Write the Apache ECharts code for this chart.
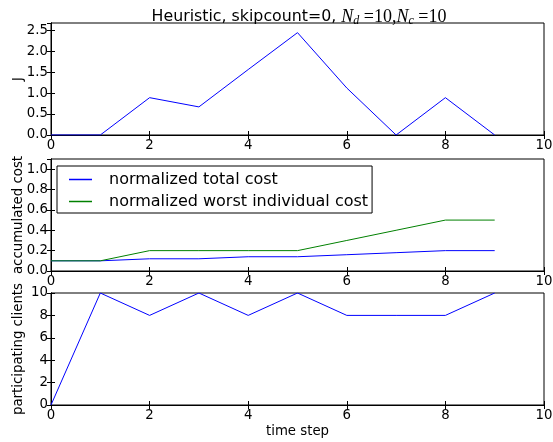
<!DOCTYPE html>
<html>
<head>
<meta charset="utf-8">
<script src="https://cdn.jsdelivr.net/npm/echarts@6/dist/echarts.min.js"></script>
<style>
  html, body { margin: 0; padding: 0; background: #fff; }
  #chart { width: 553px; height: 442px; }
</style>
</head>
<body>
<div id="chart"></div>
<script>
// data
const timeSteps = [0, 1, 2, 3, 4, 5, 6, 7, 8, 9];
const costJ = [0, 0, 0.89, 0.67, 1.56, 2.44, 1.12, 0, 0.89, 0];
const totalCost = [0.1, 0.1, 0.12, 0.12, 0.14, 0.14, 0.16, 0.18, 0.2, 0.2];
const worstCost = [0.1, 0.1, 0.2, 0.2, 0.2, 0.2, 0.3, 0.4, 0.5, 0.5];
const clients = [0, 10, 8, 10, 8, 10, 8, 8, 8, 10];
const xTicks = [0, 2, 4, 6, 8, 10];

const chart = echarts.init(document.getElementById('chart'));
const font = 'DejaVu Sans';
const black = '#000';
const fs = 13.3;

const grids = [
  { left: 51, right: 9, top: 23, height: 112 },
  { left: 51, right: 9, top: 159, height: 112 },
  { left: 51, right: 9, top: 293, height: 112 }
];
const yRanges = [
  { min: 0, max: 2.67, interval: 0.5, name: 'J', fmt: v => v.toFixed(1) },
  { min: 0, max: 1.1, interval: 0.2, name: 'accumulated cost', fmt: v => v.toFixed(1) },
  { min: 0, max: 10, interval: 2, name: 'participating clients', fmt: v => String(v) }
];

const pairs = ys => timeSteps.map((t, i) => [t, ys[i]]);

const xAxes = [];
const yAxes = [];
grids.forEach((g, i) => {
  // bottom axis with labels
  xAxes.push({
    type: 'value', gridIndex: i, min: xTicks[0], max: xTicks[xTicks.length - 1], interval: 2,
    position: 'bottom',
    name: i === 2 ? 'time step' : '', nameLocation: 'middle', nameGap: 20, nameMoveOverlap: false,
    nameTextStyle: { fontFamily: font, fontSize: fs, color: black },
    axisLine: { lineStyle: { color: black, width: 1 } },
    axisTick: { inside: true, length: 4, lineStyle: { color: black } },
    axisLabel: { margin: 4, fontFamily: font, fontSize: fs, color: black },
    splitLine: { show: false }
  });
  // top mirror ticks
  xAxes.push({
    type: 'value', gridIndex: i, min: 0, max: 10, interval: 2, position: 'top',
    axisLine: { lineStyle: { color: black, width: 1 } },
    axisTick: { inside: true, length: 4, lineStyle: { color: black } },
    axisLabel: { show: false }, splitLine: { show: false }
  });
  const r = yRanges[i];
  yAxes.push({
    type: 'value', gridIndex: i, min: r.min, max: r.max, interval: r.interval,
    position: 'left',
    name: r.name, nameLocation: 'middle', nameGap: 26, nameMoveOverlap: false,
    nameTextStyle: { fontFamily: font, fontSize: fs, color: black },
    axisLine: { show: true, lineStyle: { color: black, width: 1 } },
    axisTick: { inside: true, length: 4, lineStyle: { color: black } },
    axisLabel: { margin: 3, fontFamily: font, fontSize: fs, color: black, showMaxLabel: r.max % r.interval === 0, formatter: r.fmt },
    splitLine: { show: false }
  });
  yAxes.push({
    type: 'value', gridIndex: i, min: r.min, max: r.max, interval: r.interval,
    position: 'right',
    axisLine: { show: true, lineStyle: { color: black, width: 1 } },
    axisTick: { inside: true, length: 4, lineStyle: { color: black } },
    axisLabel: { show: false }, splitLine: { show: false }
  });
});

const lineSeries = (name, data, color, gi) => ({
  name, type: 'line', data, xAxisIndex: gi * 2, yAxisIndex: gi * 2,
  symbol: 'none', animation: false,
  lineStyle: { color, width: 1 }, itemStyle: { color }
});

const serif = 'Liberation Serif';
const option = {
  animation: false,
  title: {
    text: '{a|Heuristic, skipcount=0, }{m|N}{s|d}{r| =10,}{m|N}{s|c}{r| =10}',
    left: 294, top: 2, textAlign: 'center',
    textStyle: {
      fontWeight: 'normal',
      rich: {
        a: { fontFamily: font, fontSize: 15.8, fontWeight: 'normal', color: black, lineHeight: 20 },
        m: { fontFamily: serif, fontStyle: 'italic', fontWeight: 'normal', fontSize: 18, color: black, lineHeight: 20 },
        r: { fontFamily: serif, fontWeight: 'normal', fontSize: 18, color: black, lineHeight: 20 },
        s: { fontFamily: serif, fontStyle: 'italic', fontWeight: 'normal', fontSize: 12, color: black, lineHeight: 11, verticalAlign: 'bottom' }
      }
    }
  },
  legend: {
    left: 57, top: 166, orient: 'vertical',
    data: ['normalized total cost', 'normalized worst individual cost'],
    icon: 'rect', itemWidth: 23, itemHeight: 1.5, itemGap: 5,
    padding: [5, 4, 3, 12],
    borderColor: black, borderWidth: 1, borderRadius: 0,
    backgroundColor: '#fff',
    textStyle: { fontFamily: font, fontSize: 16, lineHeight: 17, color: black, padding: [0, 0, 0, 12] }
  },
  grid: grids.map(g => Object.assign({
    show: true, borderColor: black, borderWidth: 1, backgroundColor: 'transparent',
    containLabel: false, outerBoundsMode: 'none'
  }, g)),
  xAxis: xAxes,
  yAxis: yAxes,
  series: [
    lineSeries('J', pairs(costJ), '#0000ff', 0),
    lineSeries('normalized total cost', pairs(totalCost), '#0000ff', 1),
    lineSeries('normalized worst individual cost', pairs(worstCost), '#008000', 1),
    lineSeries('participating clients', pairs(clients), '#0000ff', 2)
  ]
};

chart.setOption(option);
window.addEventListener('resize', () => chart.resize());
</script>
</body>
</html>
